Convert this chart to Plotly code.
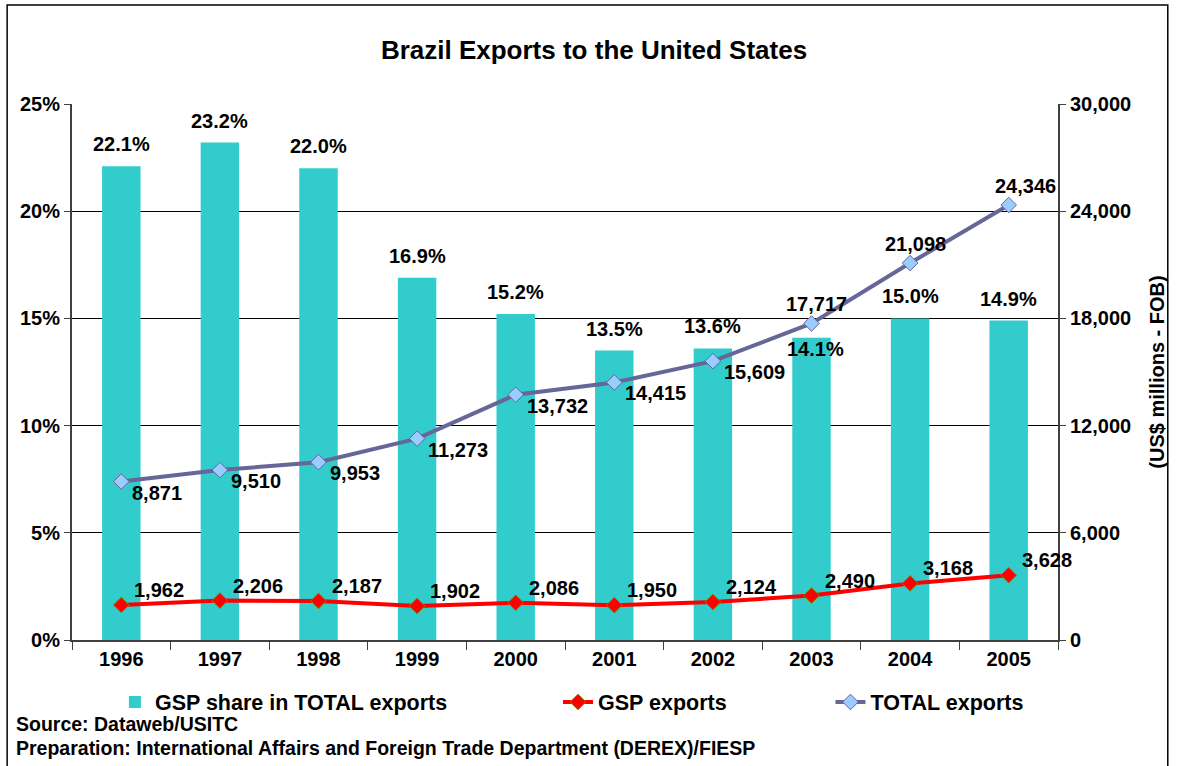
import plotly.graph_objects as go

years = ["1996", "1997", "1998", "1999", "2000", "2001", "2002", "2003", "2004", "2005"]
gsp_share = [22.1, 23.2, 22.0, 16.9, 15.2, 13.5, 13.6, 14.1, 15.0, 14.9]
gsp_exports = [1962, 2206, 2187, 1902, 2086, 1950, 2124, 2490, 3168, 3628]
total_exports = [8871, 9510, 9953, 11273, 13732, 14415, 15609, 17717, 21098, 24346]

FONT = "Liberation Sans, Arial, sans-serif"
BAR = "#33CCCC"
TOTAL_LINE = "#666699"
TOTAL_FILL = "#99CCFF"
GSP_LINE = "#FF0000"


def bold(size):
    return dict(family=FONT, size=size, color="black", weight="bold")


fig = go.Figure()

fig.add_trace(go.Bar(
    x=years, y=[v / 100 for v in gsp_share], name="GSP share in TOTAL exports",
    marker=dict(color=BAR, line=dict(width=0)), legend="legend",
))
fig.add_trace(go.Scatter(
    x=years, y=gsp_exports, yaxis="y2", name="GSP exports", mode="lines+markers",
    line=dict(color=GSP_LINE, width=4),
    marker=dict(symbol="diamond", size=12, color=GSP_LINE, line=dict(color="#808000", width=1)),
    legend="legend2",
))
fig.add_trace(go.Scatter(
    x=years, y=total_exports, yaxis="y2", name="TOTAL exports", mode="lines+markers",
    line=dict(color=TOTAL_LINE, width=4),
    marker=dict(symbol="diamond", size=12, color=TOTAL_FILL, line=dict(color=TOTAL_LINE, width=1)),
    legend="legend3",
))

lab_font = bold(20)

# percentage labels on the bars (x given as category index)
for i, (yr, v) in enumerate(zip(years, gsp_share)):
    if yr == "2003":
        fig.add_annotation(x=i, y=v / 100, xref="x", yref="y", text=f"{v:.1f}%",
                           showarrow=False, font=lab_font, yanchor="top", yshift=2, xshift=4)
    else:
        fig.add_annotation(x=i, y=v / 100, xref="x", yref="y", text=f"{v:.1f}%",
                           showarrow=False, font=lab_font, yanchor="bottom", yshift=9)

# TOTAL exports labels
for i, (yr, v) in enumerate(zip(years, total_exports)):
    if v > 17000:
        fig.add_annotation(x=i, y=v, xref="x", yref="y2", text=f"{v:,}",
                           showarrow=False, font=lab_font, yanchor="bottom",
                           xshift=5 if yr != "2005" else 17, yshift=6)
    else:
        fig.add_annotation(x=i, y=v, xref="x", yref="y2", text=f"{v:,}",
                           showarrow=False, font=lab_font, xanchor="left", yanchor="middle",
                           xshift=9, yshift=-11)

# GSP exports labels
for i, v in enumerate(gsp_exports):
    fig.add_annotation(x=i, y=v, xref="x", yref="y2", text=f"{v:,}",
                       showarrow=False, font=lab_font, xanchor="left", yanchor="middle",
                       xshift=11, yshift=15)

# footnotes, placed in paper coordinates
for ytxt, txt in [(724, "Source: Dataweb/USITC"),
                  (748, "Preparation: International Affairs and Foreign Trade Department (DEREX)/FIESP")]:
    fig.add_annotation(x=(14 - 72) / 988, y=(640 - ytxt) / 536, xref="paper", yref="paper",
                       text=txt, showarrow=False, xanchor="left", yanchor="middle",
                       font=bold(19.5))

leg_y = (640 - 702) / 536

fig.update_layout(
    width=1177, height=766,
    margin=dict(l=72, r=117, t=104, b=126),
    paper_bgcolor="white", plot_bgcolor="white",
    font=dict(family=FONT, size=16, color="black"),
    title=dict(text="Brazil Exports to the United States", x=594 / 1177, xref="container",
               xanchor="center", y=1 - 50 / 766, yanchor="middle",
               font=bold(26)),
    bargap=0.61,
    showlegend=True,
    xaxis=dict(type="category", range=[-0.5, 9.5], autorange=False,
               showline=True, linecolor="#404040", linewidth=2,
               ticks="outside", tickson="boundaries", ticklen=8, tickcolor="#404040",
               tickfont=bold(20), showgrid=False),
    yaxis=dict(range=[0, 0.25], dtick=0.05, tickformat=".0%", showline=True, linecolor="#404040",
               linewidth=2, ticks="outside", ticklen=6, tickcolor="#404040",
               showgrid=True, gridcolor="black", gridwidth=1, zeroline=False,
               tickfont=bold(20)),
    yaxis2=dict(range=[0, 30000], dtick=6000, tickformat=",", overlaying="y", side="right",
                showline=True, linecolor="#404040", linewidth=2, ticks="outside", ticklen=6,
                tickcolor="#404040", showgrid=False, zeroline=False,
                tickfont=bold(20),
                title=dict(text="(US$ millions - FOB)", standoff=20, font=bold(20))),
    legend=dict(orientation="h", x=(115 - 72) / 988, xanchor="left", y=leg_y, yanchor="middle",
                font=bold(21.5), bgcolor="rgba(0,0,0,0)"),
    legend2=dict(orientation="h", x=(559 - 72) / 988, xanchor="left", y=leg_y, yanchor="middle",
                 font=bold(21.5), bgcolor="rgba(0,0,0,0)"),
    legend3=dict(orientation="h", x=(832 - 72) / 988, xanchor="left", y=leg_y, yanchor="middle",
                 font=bold(21.5), bgcolor="rgba(0,0,0,0)"),
    shapes=[dict(type="rect", xref="paper", yref="paper",
                 x0=-65 / 988, x1=(1170 - 72) / 988, y0=(640 - 770) / 536, y1=(640 - 5) / 536,
                 line=dict(color="black", width=1.5), fillcolor="rgba(0,0,0,0)", layer="below")],
)

fig.write_html("out.html")
